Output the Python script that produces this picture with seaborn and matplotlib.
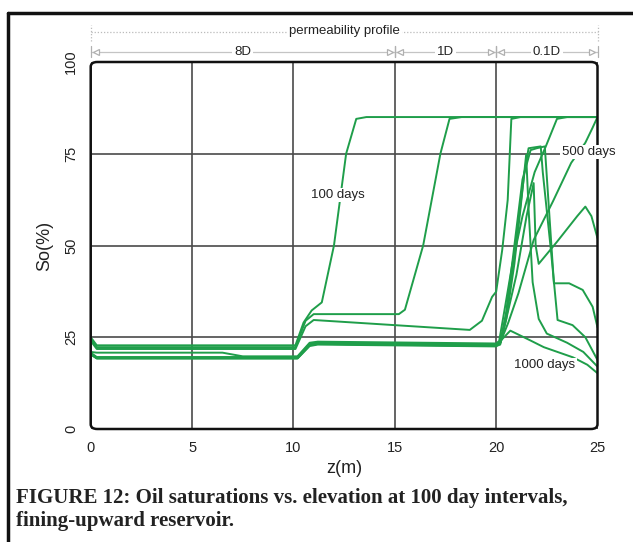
import numpy as np
import pandas as pd
import matplotlib
matplotlib.use("Agg")
import matplotlib.pyplot as plt
import matplotlib.transforms as mtransforms
from matplotlib.patches import FancyBboxPatch
from matplotlib.ticker import MultipleLocator
import seaborn as sns

# ---------------- data ----------------
z_100 = [0, 0.3, 10.1, 10.5, 10.9, 11.4, 12.0, 12.6, 13.1, 13.6, 25]
s_100 = [25, 22.8, 22.8, 29, 32.3, 34.5, 50, 75, 84.5, 85, 85]

z_200 = [0, 0.3, 10.1, 10.6, 11.0, 15.2, 15.5, 16.4, 17.25, 17.7, 18.3, 25]
s_200 = [24.5, 22.3, 22.3, 29.5, 31.3, 31.3, 32.5, 50, 75, 84.5, 85, 85]

z_300 = [0, 0.3, 10.1, 10.6, 11.0, 18.7, 19.3, 19.8, 20.0, 20.3, 20.57, 20.75, 21.2, 25]
s_300 = [24, 21.8, 21.8, 28, 29.7, 27, 29.5, 36, 37.4, 48.8, 62.4, 84.5, 85, 85]

z_400 = [0, 0.3, 6.5, 7.5, 10.2, 10.8, 11.2, 20.0, 20.15, 20.4, 20.8, 21.3, 21.9, 22.45, 23.0, 23.5, 25]
s_400 = [21, 20.8, 20.8, 19.8, 19.8, 23.5, 23.8, 23.3, 24, 32, 45, 58, 70, 77, 84.5, 85, 85]

z_500 = [0, 0.3, 10.2, 10.8, 11.2, 20.0, 20.2, 20.6, 21.1, 21.85, 22.8, 23.7, 24.4, 24.75, 25]
s_500 = [20.8, 19.6, 19.6, 23.2, 23.5, 23.0, 23.5, 29, 37, 51.5, 62, 72.5, 78, 82, 85]

z_600 = [0, 0.3, 10.2, 10.8, 11.2, 20.0, 20.2, 20.5, 21.0, 21.5, 21.85, 21.95, 22.1, 23.0, 24.0, 24.4, 24.7, 25]
s_600 = [20.5, 19.5, 19.5, 23, 23.3, 22.8, 23.5, 30, 42, 58, 67, 50, 45, 51, 58, 60.6, 58, 52]

z_700 = [0, 0.3, 10.2, 10.8, 11.2, 20.0, 20.2, 20.5, 20.9, 21.3, 21.7, 22.0, 22.4, 22.85, 23.6, 24.27, 24.76, 25]
s_700 = [20.5, 19.4, 19.4, 23, 23.3, 22.8, 23.5, 32, 50, 68, 76, 76.5, 77, 39.7, 39.7, 37.9, 33.3, 27.7]

z_800 = [0, 0.3, 10.2, 10.8, 11.2, 20.0, 20.2, 20.5, 21.0, 21.4, 21.6, 22.2, 22.3, 22.7, 23.03, 23.77, 24.4, 25]
s_800 = [20.4, 19.3, 19.3, 22.9, 23.2, 22.7, 23.3, 31, 52, 70, 76.5, 77, 70, 48.8, 29.7, 28.3, 25, 18.8]

z_900 = [0, 0.3, 10.2, 10.8, 11.2, 20.0, 20.2, 20.5, 20.9, 21.2, 21.48, 21.6, 21.8, 22.1, 22.5, 23.5, 24.3, 25]
s_900 = [20.5, 19.3, 19.3, 22.8, 23.2, 22.6, 23, 30, 45, 60, 74.7, 60, 40, 30, 26, 23.5, 21, 17]

z_1000 = [0, 0.3, 10.2, 10.8, 11.2, 20.0, 20.3, 20.7, 21.7, 22.35, 23.8, 24.5, 25]
s_1000 = [20.3, 19.2, 19.2, 22.6, 23, 22.5, 24.5, 26.8, 24.1, 22.3, 19.5, 17.5, 15.2]

days = [100, 200, 300, 400, 500, 600, 700, 800, 900, 1000]
z_series = [z_100, z_200, z_300, z_400, z_500, z_600, z_700, z_800, z_900, z_1000]
s_series = [s_100, s_200, s_300, s_400, s_500, s_600, s_700, s_800, s_900, s_1000]

x_ticks = [0, 5, 10, 15, 20, 25]
y_ticks = [0, 25, 50, 75, 100]
perm_zones = [(0, 15, "8D"), (15, 20, "1D"), (20, 25, "0.1D")]
curve_labels = [(12.2, 63.8, "100 days"), (24.55, 75.5, "500 days"), (22.4, 17.4, "1000 days")]

# ---------------- build long table ----------------
frames = []
for d, zz, ss in zip(days, z_series, s_series):
    frames.append(pd.DataFrame({"z": zz, "S": ss, "day": d}))
df = pd.concat(frames, ignore_index=True)

# ---------------- style ----------------
sns.set_style("white")
plt.rcParams["font.family"] = ["Liberation Sans", "DejaVu Sans"]

W, H = 633, 542
fig = plt.figure(figsize=(W / 100, H / 100), dpi=100)
ax_l, ax_r, ax_t, ax_b = 90.7, 597.5, 62, 429
ax = fig.add_axes([ax_l / W, 1 - ax_b / H, (ax_r - ax_l) / W, (ax_b - ax_t) / H])

green = "#1f9e4a"
sns.lineplot(data=df, x="z", y="S", units="day", estimator=None, sort=False,
             color=green, lw=1.4, ax=ax, legend=False, zorder=3)

ax.set_xlim(0, 25)
ax.set_ylim(0, 100)
ax.set_xticks(x_ticks)
ax.set_yticks(y_ticks)
ax.xaxis.set_minor_locator(MultipleLocator(1))
ax.yaxis.set_minor_locator(MultipleLocator(5))
ax.grid(True, which="major", color="#4a4a4a", lw=1.2, zorder=1)
for sp in ax.spines.values():
    sp.set_visible(False)
ax.tick_params(axis="both", which="major", direction="out", length=7, width=1.5,
               color="#222", labelsize=10.5, labelcolor="#222", pad=2)
ax.tick_params(axis="both", which="minor", direction="out", length=4, width=1.5, color="#222")
for lab in ax.get_yticklabels():
    lab.set_rotation(90)
    lab.set_va("center")
ax.set_xlabel("z(m)", fontsize=13, color="#222", labelpad=3)
ax.set_ylabel("So(%)", fontsize=13, color="#222", labelpad=8)

# rounded plot frame
box = FancyBboxPatch((0, 0), 1, 1, boxstyle="round,pad=0,rounding_size=0.013",
                     transform=ax.transAxes, fill=False, ec="#111", lw=1.8,
                     clip_on=False, zorder=4)
ax.add_patch(box)

# curve labels
for x, y, t in curve_labels:
    ax.text(x, y, t, fontsize=9.5, color="#222", ha="center", va="center", zorder=5,
            bbox=dict(boxstyle="square,pad=0.1", fc="white", ec="none"), clip_on=False)

# permeability profile annotation
trans = mtransforms.blended_transform_factory(ax.transData, ax.transAxes)
y_top = 1.081
y_seg = 1.028
ax.plot([0, 25], [y_top, y_top], transform=trans, ls=(0, (1, 1.5)), color="#bbbbbb",
        lw=0.9, clip_on=False)
for xe in (0, 25):
    ax.plot([xe, xe], [y_top - 0.025, y_top + 0.02], transform=trans, ls=(0, (1, 1.5)),
            color="#bbbbbb", lw=0.9, clip_on=False)
ax.text(12.5, y_top + 0.004, "permeability profile", transform=trans, fontsize=9.5,
        color="#222", ha="center", va="center",
        bbox=dict(boxstyle="square,pad=0.15", fc="white", ec="none"))
for a, b, t in perm_zones:
    ax.plot([a, b], [y_seg, y_seg], transform=trans, color="#c4c4c4", lw=0.9, clip_on=False)
    ax.plot([a + 0.25], [y_seg], transform=trans, marker="<", ms=5, mfc="white",
            mec="#b0b0b0", mew=0.9, clip_on=False)
    ax.plot([b - 0.25], [y_seg], transform=trans, marker=">", ms=5, mfc="white",
            mec="#b0b0b0", mew=0.9, clip_on=False)
    for xe in (a, b):
        ax.plot([xe, xe], [y_seg - 0.015, y_seg + 0.015], transform=trans,
                color="#b0b0b0", lw=0.9, clip_on=False)
    ax.text((a + b) / 2, y_seg, t, transform=trans, fontsize=9.5, color="#222",
            ha="center", va="center",
            bbox=dict(boxstyle="square,pad=0.15", fc="white", ec="none"))

# figure frame (left and top)
fig.add_artist(plt.Line2D([8 / W, 8 / W], [0, 1 - 12.7 / H], transform=fig.transFigure,
                          color="#111", lw=2.5))
fig.add_artist(plt.Line2D([8 / W, 1], [1 - 12.7 / H, 1 - 12.7 / H], transform=fig.transFigure,
                          color="#111", lw=2.5))

# caption
cap_font = ["Liberation Serif", "DejaVu Serif"]
fig.text(16 / W, 1 - 498 / H, "FIGURE 12: Oil saturations vs. elevation at 100 day intervals,",
         family=cap_font, fontweight="bold", fontsize=15, color="#222", va="center", ha="left")
fig.text(16 / W, 1 - 521 / H, "fining-upward reservoir.",
         family=cap_font, fontweight="bold", fontsize=15, color="#222", va="center", ha="left")

fig.savefig("out.png", dpi=100)
